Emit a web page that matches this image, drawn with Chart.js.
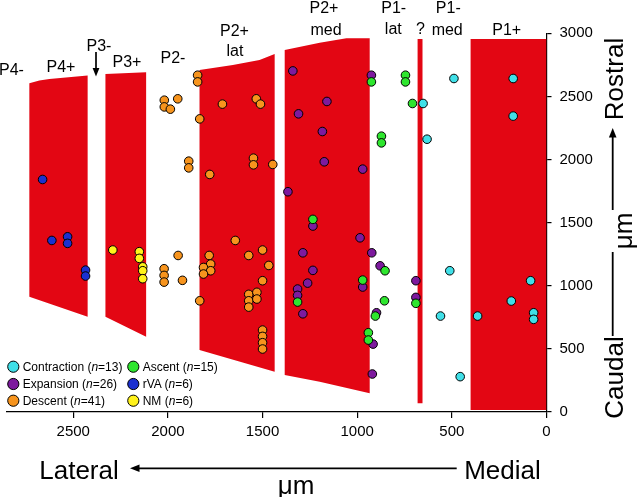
<!DOCTYPE html>
<html>
<head>
<meta charset="utf-8">
<script src="https://cdn.jsdelivr.net/npm/chart.js@4/dist/chart.umd.min.js"></script>
<style>
html,body{margin:0;padding:0;background:#fff;}
#wrap{position:relative;width:640px;height:497px;overflow:hidden;background:#fff}
#c{position:absolute;left:0;top:0}
#ov{position:absolute;left:0;top:0;pointer-events:none}
#ov text{font-family:"Liberation Sans",Arial,sans-serif;fill:#000}
</style>
</head>
<body>
<div id="wrap">
<canvas id="c" width="640" height="497"></canvas>
<svg id="ov" width="640" height="497" xmlns="http://www.w3.org/2000/svg">
  <g font-size="16" text-anchor="middle">
    <text x="11.5" y="75">P4-</text>
    <text x="61" y="72">P4+</text>
    <text x="99" y="50.7">P3-</text>
    <text x="127" y="66.5">P3+</text>
    <text x="173" y="63.3">P2-</text>
    <text x="234.5" y="35.7">P2+</text>
    <text x="235" y="56">lat</text>
    <text x="324" y="13.3">P2+</text>
    <text x="326" y="35">med</text>
    <text x="393.7" y="12.7">P1-</text>
    <text x="393.3" y="34">lat</text>
    <text x="420.5" y="34.3">?</text>
    <text x="448.3" y="13.3">P1-</text>
    <text x="447.2" y="35">med</text>
    <text x="506.7" y="35">P1+</text>
  </g>
  <line x1="96" y1="52" x2="96" y2="70" stroke="#000" stroke-width="1.7"/>
  <polygon points="92.6,68 99.4,68 96,76.5" fill="#000"/>
  <g font-size="26" text-anchor="middle">
    <text x="79" y="479">Lateral</text>
    <text x="502.5" y="479">Medial</text>
    <text x="296" y="494">μm</text>
    <text transform="translate(623.3,79) rotate(-90)">Rostral</text>
    <text transform="translate(632,231) rotate(-90)">μm</text>
    <text transform="translate(623.3,377.5) rotate(-90)">Caudal</text>
  </g>
  <line x1="137" y1="468.3" x2="456.7" y2="468.3" stroke="#000" stroke-width="1.7"/>
  <polygon points="130,468.3 139.5,464.5 139.5,472.1" fill="#000"/>
  <line x1="612.7" y1="135" x2="612.7" y2="210" stroke="#000" stroke-width="1.8"/>
  <line x1="612.7" y1="252" x2="612.7" y2="336" stroke="#000" stroke-width="1.8"/>
  <polygon points="612.7,128 608.9,137.5 616.5,137.5" fill="#000"/>
  <g id="legend" font-size="12"></g>
</svg>
</div>
<script>
// ---- tick labels ----
const xTicks = [0, 500, 1000, 1500, 2000, 2500];
const yTicks = [0, 500, 1000, 1500, 2000, 2500, 3000];

// ---- series (x = µm lateral from midline, y = µm rostral) ----
const seriesNames = ['Contraction', 'Expansion', 'Descent', 'Ascent', 'rVA', 'NM'];
const seriesCounts = [13, 26, 41, 15, 6, 6];

const contraction = [[489,2642],[176,2642],[652,2444],[176,2344],[631,2161],
  [511,1119],[84,1040],[186,879],[560,760],[364,760],[68,786],[68,734],[456,280]];

const expansion = [[1340,2702],[925,2668],[1160,2460],[1310,2362],[1184,2222],[1174,1982],[971,1924],[1366,1745],
  [1234,1473],[985,1380],[923,1261],[879,1158],[1287,1261],[1234,1122],[1262,1021],[1315,974],[1315,924],
  [971,990],[1287,778],[898,786],[916,538],[920,301],[690,1040],[690,908]];

const descent = [[1843,2668],[1843,2615],[2019,2470],[1948,2481],[2019,2417],[1987,2399],[1712,2439],[1533,2481],[1511,2439],[1832,2322],
  [1890,1987],[1890,1934],[1548,2011],[1548,1958],[1446,1961],[1779,1882],
  [1644,1359],[1946,1240],[1782,1240],[1573,1240],[1500,1283],[1467,1161],[1774,1172],[1812,1145],[1774,1119],[1812,1093],
  [2020,1135],[2020,1082],[2020,1029],[1923,1043],[1500,1040],[1573,932],[1530,948],[1573,881],[1530,895],[1573,831],[1832,881],
  [1500,649],[1500,599],[1500,549],[1500,499]];

const ascent = [[745,2668],[745,2615],[708,2444],[872,2185],[872,2132],[925,2615],
  [1234,1526],[853,1119],[971,1045],[1315,871],[856,881],[904,760],[941,628],[941,570],[690,861]];

const rva = [[2662,1842],[2613,1359],[2530,1388],[2530,1336],[2435,1124],[2435,1077]];

const nm = [[2291,1283],[2151,1270],[2151,1217],[2133,1150],[2133,1119],[2133,1056]];

// ---- region outlines (µm) ----
const regionP4plus = [[2732,913],[2732,2604],[2679,2626],[2626,2638],[2424,2665],[2424,755]];
const regionP3plus = [[2330,755],[2330,2678],[2115,2691],[2115,597]];
const regionP2plusLat = [[1833,491],[1833,2709],[1657,2749],[1516,2789],[1436,2836],[1436,319]];
const regionP2plusMed = [[1383,293],[1383,2868],[1198,2926],[1057,2960],[934,2960],[934,148],[1198,240]];
const regionUnknown = [[681,69],[681,2955],[655,2955],[655,69]];
const regionP1plus = [[401,15],[401,2955],[0,2955],[0,15]];

// ---- styling ----
const RED = 'rgb(227,6,19)';
const seriesColors = ['#40E0E8', '#7D1A9E', '#F7941D', '#2EE62E', '#1B30D0', '#FFF21A'];
const FONT = '"Liberation Sans", Arial, sans-serif';

const toPts = a => a.map(([x, y]) => ({x, y}));
const regionDs = a => ({
  type: 'line', data: toPts(a.concat([a[0]])), fill: 'shape',
  backgroundColor: RED, borderColor: 'rgba(0,0,0,0)', borderWidth: 0,
  pointRadius: 0, tension: 0, order: 100
});
const seriesData = [contraction, expansion, descent, ascent, rva, nm];
const drawOrder = [2, 3, 4, 1, 5, 6];
const pointDs = seriesData.map((arr, i) => ({
  type: 'scatter', label: seriesNames[i], data: toPts(arr),
  backgroundColor: seriesColors[i], borderColor: '#000', borderWidth: 1,
  pointRadius: 4.3, order: drawOrder[i]
}));

new Chart(document.getElementById('c'), {
  type: 'scatter',
  data: {
    datasets: [regionP4plus, regionP3plus, regionP2plusLat, regionP2plusMed, regionUnknown, regionP1plus]
      .map(regionDs).concat(pointDs)
  },
  options: {
    responsive: false, animation: false, events: [],
    devicePixelRatio: 1,
    layout: {padding: {left: 7, top: 33.3, right: 0, bottom: 0}},
    plugins: {legend: {display: false}, tooltip: {enabled: false}},
    scales: {
      x: {
        type: 'linear', reverse: true, min: 0, max: 2850, position: 'bottom',
        afterBuildTicks: s => { s.ticks = xTicks.map(v => ({value: v})); },
        afterFit: s => { s.height = 85; },
        grid: {display: true, drawOnChartArea: false, drawTicks: true, tickLength: 6, color: '#000', lineWidth: 1.2},
        border: {display: true, color: '#000', width: 1.2},
        ticks: {color: '#000', font: {family: FONT, size: 15}, padding: 5, maxRotation: 0, autoSkip: false,
          callback: v => String(v)}
      },
      y: {
        type: 'linear', min: 0, max: 3000, position: 'right',
        afterBuildTicks: s => { s.ticks = yTicks.map(v => ({value: v})); },
        afterFit: s => { s.width = 93.5; },
        grid: {display: true, drawOnChartArea: false, drawTicks: true, tickLength: 5, color: '#000', lineWidth: 1.2},
        border: {display: true, color: '#000', width: 1.2},
        ticks: {color: '#000', font: {family: FONT, size: 15}, padding: 8, autoSkip: false,
          callback: v => String(v)}
      }
    }
  }
});

// ---- legend (SVG text) ----
const NS = 'http://www.w3.org/2000/svg';
const lg = document.getElementById('legend');
const legendPos = [[13.3, 366.7], [13.3, 384], [13.3, 400.7], [133.3, 366.7], [133.3, 384], [133.3, 400.7]];
seriesNames.forEach((name, i) => {
  const [cx, cy] = legendPos[i];
  const c = document.createElementNS(NS, 'circle');
  c.setAttribute('cx', cx); c.setAttribute('cy', cy); c.setAttribute('r', 5.6);
  c.setAttribute('fill', seriesColors[i]); c.setAttribute('stroke', '#000'); c.setAttribute('stroke-width', 1);
  lg.appendChild(c);
  const t = document.createElementNS(NS, 'text');
  t.setAttribute('x', cx + 9.4); t.setAttribute('y', cy + 4.3);
  t.appendChild(document.createTextNode(name + ' ('));
  const it = document.createElementNS(NS, 'tspan');
  it.setAttribute('font-style', 'italic'); it.textContent = 'n';
  t.appendChild(it);
  t.appendChild(document.createTextNode('=' + seriesCounts[i] + ')'));
  lg.appendChild(t);
});
</script>
</body>
</html>
